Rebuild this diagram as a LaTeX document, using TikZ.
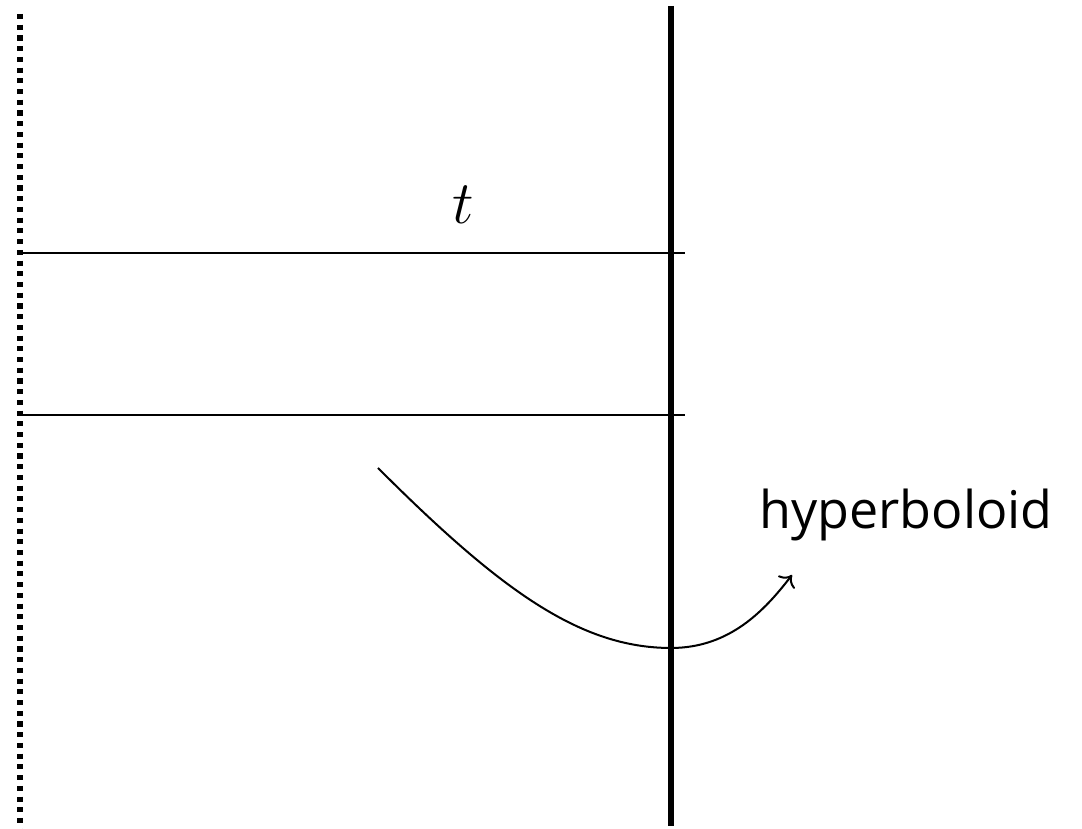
\documentclass[tikz,border=0pt]{standalone}
\usepackage{amsmath}
\usepackage{fontspec}
\newfontfamily\handfont{Open Sans}
\usetikzlibrary{arrows.meta}

\begin{document}
\begin{tikzpicture}[font=\LARGE, line width=0.57pt]
\useasboundingbox (0,0) rectangle (10.82,8.29);
% boundary and axis
\draw[line width=1.45pt, dash pattern=on 1.45pt off 1.6pt] (0.20,8.15) -- (0.20,0);
\draw[line width=1.45pt] (6.71,8.23) -- (6.71,0.03);
% slab
\draw (0.20,5.76) -- (6.85,5.76);
\draw (0.20,4.14) -- (6.85,4.14);
\node (tlab) at (4.63,6.24) {$t$};
% hyperboloid label
\node (hyp) at (9.06,3.14) {\handfont\fontsize{14.8}{18}\selectfont hyperboloid};
\coordinate (cstart) at (3.78,3.61);
\coordinate (cbot) at (6.71,1.81);
\coordinate (ctip) at (7.92,2.54);
\draw[->] (cstart) .. controls (5.00,2.39) and (5.80,1.81) .. (cbot)
  .. controls (7.30,1.81) and (7.65,2.19) .. (ctip);
\end{tikzpicture}
\end{document}
